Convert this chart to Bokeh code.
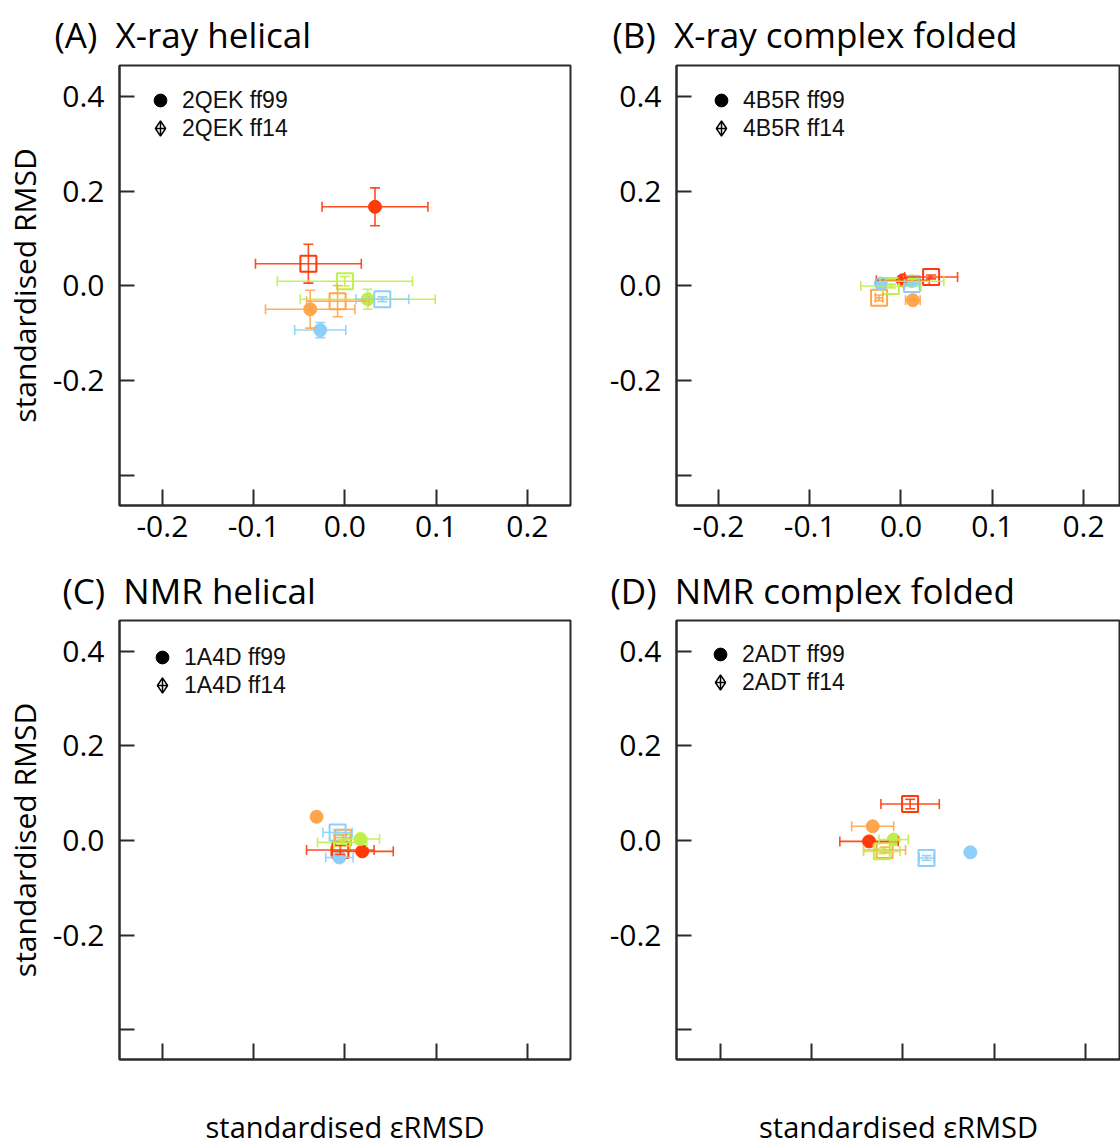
from bokeh.plotting import figure
from bokeh.models import (ColumnDataSource, Whisker, TeeHead, FixedTicker, Title,
                          Legend, LegendItem, Range1d, NumeralTickFormatter)
from bokeh.layouts import column, row
from bokeh.embed import file_html
from bokeh.resources import INLINE

# ---------------- data ----------------
series_colors = ["#FF3A0A", "#FFA64C", "#BFEF4A", "#8DCFFA"]  # red, orange, green, blue
series_names = ["red", "orange", "green", "blue"]

x_ticks = [-0.2, -0.1, 0.0, 0.1, 0.2]
y_ticks = [-0.4, -0.2, 0.0, 0.2, 0.4]
y_tick_labels = {-0.4: "", -0.2: "-0.2", 0: "0.0", 0.2: "0.2", 0.4: "0.4"}

titles = ["(A)\u00a0\u00a0X-ray helical", "(B)\u00a0\u00a0X-ray complex folded",
          "(C)\u00a0\u00a0NMR helical", "(D)\u00a0\u00a0NMR complex folded"]
legend_labels = [["2QEK ff99", "2QEK ff14"], ["4B5R ff99", "4B5R ff14"],
                 ["1A4D ff99", "1A4D ff14"], ["2ADT ff99", "2ADT ff14"]]
y_label = "standardised RMSD"
x_label = "standardised \u03b5RMSD"

# Panel A  (order: red, orange, green, blue)
A_ff99_x  = [0.033, -0.038, 0.025, -0.027]
A_ff99_y  = [0.167, -0.049, -0.028, -0.093]
A_ff99_xe = [0.058, 0.049, 0.074, 0.028]
A_ff99_ye = [0.040, 0.040, 0.021, 0.016]
A_ff14_x  = [-0.040, -0.008, 0.000, 0.041]
A_ff14_y  = [0.047, -0.032, 0.010, -0.028]
A_ff14_xe = [0.058, 0.034, 0.074, 0.029]
A_ff14_ye = [0.041, 0.033, 0.010, 0.005]

# Panel B
B_ff99_x  = [0.002, 0.013, 0.012, -0.022]
B_ff99_y  = [0.012, -0.030, 0.010, 0.005]
B_ff99_xe = [0.029, 0.008, 0.035, 0.005]
B_ff99_ye = [0.004, 0.003, 0.004, 0.003]
B_ff14_x  = [0.033, -0.024, -0.011, 0.012]
B_ff14_y  = [0.019, -0.025, 0.000, 0.004]
B_ff14_xe = [0.029, 0.004, 0.033, 0.008]
B_ff14_ye = [0.004, 0.006, 0.004, 0.004]

# Panel C
C_ff99_x  = [0.019, -0.031, 0.017, -0.006]
C_ff99_y  = [-0.023, 0.050, 0.003, -0.036]
C_ff99_xe = [0.034, 0.003, 0.021, 0.015]
C_ff99_ye = [0.005, 0.003, 0.004, 0.003]
C_ff14_x  = [-0.005, -0.002, -0.003, -0.008]
C_ff14_y  = [-0.020, 0.006, -0.004, 0.017]
C_ff14_xe = [0.037, 0.009, 0.027, 0.016]
C_ff14_ye = [0.010, 0.006, 0.004, 0.006]

# Panel D
D_ff99_x  = [-0.037, -0.033, -0.010, 0.074]
D_ff99_y  = [-0.002, 0.030, 0.002, -0.025]
D_ff99_xe = [0.032, 0.023, 0.016, 0.0]
D_ff99_ye = [0.003, 0.003, 0.003, 0.0]
D_ff14_x  = [0.008, -0.020, -0.023, 0.026]
D_ff14_y  = [0.077, -0.020, -0.023, -0.037]
D_ff14_xe = [0.032, 0.023, 0.020, 0.008]
D_ff14_ye = [0.010, 0.006, 0.005, 0.005]

panels = [
    (A_ff99_x, A_ff99_y, A_ff99_xe, A_ff99_ye, A_ff14_x, A_ff14_y, A_ff14_xe, A_ff14_ye),
    (B_ff99_x, B_ff99_y, B_ff99_xe, B_ff99_ye, B_ff14_x, B_ff14_y, B_ff14_xe, B_ff14_ye),
    (C_ff99_x, C_ff99_y, C_ff99_xe, C_ff99_ye, C_ff14_x, C_ff14_y, C_ff14_xe, C_ff14_ye),
    (D_ff99_x, D_ff99_y, D_ff99_xe, D_ff99_ye, D_ff14_x, D_ff14_y, D_ff14_xe, D_ff14_ye),
]

# ---------------- layout geometry ----------------
PX_PER_X = 912.5
geom = [
    dict(w=600, h=557, l=119, r=30, t=65, b=52, xs=-0.247, ys=-0.463, ye=0.465, toff=-65, tst=16,
         lx=41, ly=35, top=True),
    dict(w=520, h=557, l=76, r=0, t=65, b=52, xs=-0.246, ys=-0.463, ye=0.465, toff=-64, tst=16,
         lx=45, ly=35, top=True),
    dict(w=600, h=591, l=119, r=30, t=63, b=88, xs=-0.247, ys=-0.463, ye=0.465, toff=-57, tst=14,
         lx=43, ly=38, top=False),
    dict(w=520, h=591, l=76, r=0, t=63, b=88, xs=-0.248, ys=-0.463, ye=0.465, toff=-66, tst=14,
         lx=44, ly=35, top=False),
]

FONT = "Open Sans"
AX_COL = "#2b2b2b"
NAN = float("nan")


def make_panel(i):
    g = geom[i]
    fw = g["w"] - g["l"] - g["r"]
    fh = g["h"] - g["t"] - g["b"]
    xe_ = g["xs"] + fw / PX_PER_X
    p = figure(width=g["w"], height=g["h"], output_backend="svg", toolbar_location=None,
               x_range=Range1d(g["xs"], xe_), y_range=Range1d(g["ys"], g["ye"]),
               min_border_left=g["l"], min_border_right=g["r"],
               min_border_top=g["t"], min_border_bottom=g["b"],
               background_fill_color="white", border_fill_color="white")
    p.grid.visible = False
    p.outline_line_color = AX_COL
    p.outline_line_width = 2
    p.outline_line_alpha = 1

    p.title = Title(text=titles[i], align="left", offset=g["toff"], text_font=FONT,
                    text_font_size="35px", text_font_style="normal", text_color="black",
                    vertical_align="bottom", standoff=g["tst"])

    xa = p.below[0]
    ya = p.left[0]

    xa.ticker = FixedTicker(ticks=x_ticks)
    xa.formatter = NumeralTickFormatter(format="0.0")
    xa.major_tick_in = 16
    xa.major_tick_out = 0
    xa.minor_tick_line_color = None
    xa.major_tick_line_width = 2
    xa.major_tick_line_color = AX_COL
    xa.axis_line_width = 2
    xa.axis_line_color = AX_COL
    xa.major_label_text_font = FONT
    xa.major_label_text_font_size = "30px"
    xa.major_label_text_color = "black"
    xa.major_label_standoff = 10
    if g["top"]:
        xa.axis_label = None
    else:
        xa.major_label_text_font_size = "0px"
        xa.major_label_standoff = 0
        xa.axis_label = x_label
        xa.axis_label_text_font = FONT
        xa.axis_label_text_font_size = "29px"
        xa.axis_label_text_font_style = "normal"
        xa.axis_label_text_color = "black"
        xa.axis_label_standoff = 47

    ya.ticker = FixedTicker(ticks=y_ticks)
    ya.formatter = NumeralTickFormatter(format="0.0")
    ya.major_label_overrides = y_tick_labels
    ya.major_tick_in = 15
    ya.major_tick_out = 0
    ya.minor_tick_line_color = None
    ya.major_tick_line_width = 2
    ya.major_tick_line_color = AX_COL
    ya.axis_line_width = 2
    ya.axis_line_color = AX_COL
    ya.major_label_text_font = FONT
    ya.major_label_text_font_size = "30px"
    ya.major_label_text_color = "black"
    ya.major_label_standoff = 15
    ya.major_label_orientation = "horizontal"
    if g["r"] > 0:
        ya.axis_label = y_label
        ya.axis_label_text_font = FONT
        ya.axis_label_text_font_size = "30px"
        ya.axis_label_text_font_style = "normal"
        ya.axis_label_text_color = "black"
        ya.axis_label_standoff = 5

    (x99, y99, xe99, ye99, x14, y14, xe14, ye14) = panels[i]
    for k, col in enumerate(series_colors):
        src = ColumnDataSource(dict(
            x=[x99[k], x14[k]], y=[y99[k], y14[k]],
            xl=[x99[k] - xe99[k], x14[k] - xe14[k]], xu=[x99[k] + xe99[k], x14[k] + xe14[k]],
            yl=[y99[k] - ye99[k], y14[k] - ye14[k]], yu=[y99[k] + ye99[k], y14[k] + ye14[k]],
        ))
        for dim, base, lo, up in (("width", "y", "xl", "xu"), ("height", "x", "yl", "yu")):
            w = Whisker(source=src, base=base, lower=lo, upper=up, dimension=dim,
                        line_color=col, line_width=1.6, line_alpha=0.9, level="glyph",
                        upper_head=TeeHead(size=10, line_color=col, line_width=1.6, line_alpha=0.9),
                        lower_head=TeeHead(size=10, line_color=col, line_width=1.6, line_alpha=0.9))
            p.add_layout(w)
        s99 = ColumnDataSource(dict(x=[x99[k]], y=[y99[k]]))
        s14 = ColumnDataSource(dict(x=[x14[k]], y=[y14[k]]))
        p.scatter("x", "y", source=s99, marker="circle", size=13, fill_color=col,
                  line_color=col, line_width=1)
        p.scatter("x", "y", source=s14, marker="square", size=16, fill_color=None,
                  line_color=col, line_width=2)

    # legend key glyphs (placeholder renderers, nothing visible in the plot)
    r1 = p.scatter(x=[NAN], y=[NAN], marker="circle", fill_color="black", line_color="black")
    r2 = p.scatter(x=[NAN], y=[NAN], marker="diamond_cross", fill_color=None,
                   line_color="black", line_width=1.5)
    gw = 44
    for (lab, rend, gh, yc) in ((legend_labels[i][0], r1, 32, g["ly"]),
                                (legend_labels[i][1], r2, 38, g["ly"] + 28)):
        leg = Legend(items=[LegendItem(label=lab, renderers=[rend])],
                     location=(g["lx"] - gw // 2, fh - yc - gh // 2), margin=0, padding=0,
                     spacing=0, glyph_width=gw, glyph_height=gh, label_height=gh,
                     label_standoff=0, label_text_font="Liberation Sans",
                     label_text_font_size="23px", label_text_color="#111111",
                     border_line_color=None, background_fill_alpha=0)
        p.add_layout(leg)
    return p


figs = [make_panel(i) for i in range(4)]
layout = column(row(figs[0], figs[1]), row(figs[2], figs[3]))
open("out.html", "w").write(file_html(layout, INLINE))
